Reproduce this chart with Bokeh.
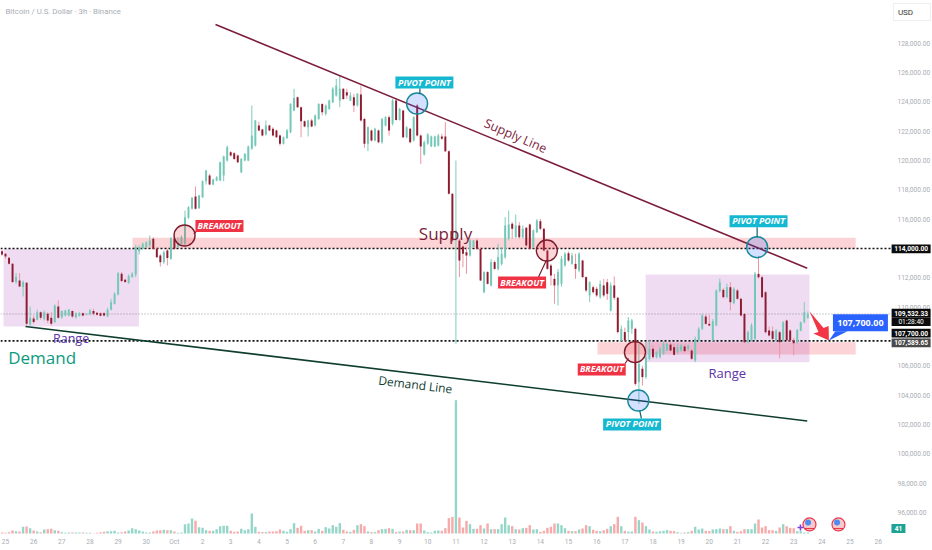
from bokeh.plotting import figure, ColumnDataSource
from bokeh.models import Range1d, FixedTicker, NumeralTickFormatter, LinearScale
from bokeh.core.properties import value
from bokeh.embed import file_html
from bokeh.resources import INLINE

opens = [113.82,113.64,113.37,112.96,111.71,111.82,111.37,111.66,108.82,109.23,
109.14,109.66,109.21,109.55,109.27,108.98,110.05,109.32,109.43,109.43,
109.73,109.32,109.41,109.59,109.50,109.50,109.73,109.62,109.59,109.59,
109.37,109.82,110.23,110.87,112.27,111.87,111.64,112.05,112.23,113.82,
113.98,114.09,114.21,114.66,113.98,113.52,113.07,113.86,113.30,114.66,
114.09,114.27,114.32,116.09,116.71,117.55,116.75,117.50,118.59,118.98,
118.36,118.64,118.64,118.98,120.00,120.57,120.50,120.34,119.20,120.00,
120.00,120.80,121.02,122.39,122.11,121.77,122.39,122.16,122.05,121.70,
121.14,121.52,121.93,123.41,124.32,123.64,122.68,
122.27,122.73,122.39,122.84,123.86,123.18,123.52,123.98,124.43,124.09,
124.89,124.66,124.09,124.32,123.75,124.50,122.84,121.14,122.05,121.36,
122.05,121.25,122.39,122.95,122.50,124.09,122.77,123.41,121.59,122.16,
121.36,123.75,121.70,120.41,121.14,120.95,120.95,121.02,121.64,121.64,
120.64,117.73,114.55,114.55,114.14,113.75,113.52,114.09,114.55,113.98,
111.02,112.39,111.48,113.07,112.61,112.95,113.41,114.66,115.68,114.77,
115.57,114.77,115.41,115.64,114.09,115.11,115.86,115.34,113.87,112.84,
111.93,111.48,111.59,112.84,113.68,112.95,112.95,112.50,113.18,112.05,
110.80,111.36,111.25,110.68,111.48,111.70,109.77,111.48,110.64,107.73,
108.30,108.30,108.52,108.52,104.89,105.80,105.23,106.48,107.16,106.59,
106.59,106.82,107.04,107.45,107.27,106.93,107.04,107.32,107.16,107.04,
106.36,107.73,108.52,109.36,108.86,107.73,108.75,111.09,111.18,110.68,
111.36,110.27,111.14,110.57,109.54,107.61,107.73,107.84,112.27,112.04,
111.02,108.41,108.36,107.73,108.29,107.73,109.09,108.41,107.73,107.61,
108.41,108.97,109.27]

highs = [113.91,113.68,113.41,113.00,112.32,112.32,111.82,111.71,110.05,109.43,
109.82,109.71,109.78,109.66,109.66,110.18,110.46,109.78,109.82,109.89,
109.78,109.64,109.66,109.64,109.57,109.87,109.89,109.66,109.64,109.68,
109.96,110.57,111.02,112.39,112.39,111.93,112.23,112.39,114.25,114.21,
114.41,114.50,114.89,114.77,114.02,113.64,113.86,113.98,114.77,114.73,
114.77,114.89,116.59,116.89,117.50,118.23,117.66,118.64,119.36,119.09,
118.75,118.93,119.93,120.34,121.02,120.64,120.57,120.41,120.18,120.50,
121.02,123.75,122.77,122.66,122.16,122.73,122.45,122.27,122.11,121.77,
121.64,122.16,123.91,124.89,124.36,123.68,122.73,
122.77,122.84,123.14,123.91,123.91,123.82,124.16,125.00,125.57,125.80,
124.93,124.89,124.66,124.55,124.59,125.11,122.91,122.32,122.11,122.23,
122.11,122.91,123.02,123.07,124.20,124.20,123.59,123.45,122.34,122.23,
123.02,123.86,121.77,121.36,121.86,121.70,121.70,121.82,121.82,122.61,
120.68,117.77,120.00,114.66,114.20,114.09,114.66,114.59,114.66,114.05,
112.45,112.45,113.30,113.18,114.32,114.09,116.14,116.59,115.80,116.32,
115.80,115.57,115.45,115.70,115.30,116.00,116.02,115.40,113.95,112.95,
112.27,112.60,113.50,113.77,113.80,113.70,113.64,113.75,113.23,112.09,
111.77,111.48,111.40,111.82,111.93,111.93,111.70,112.09,110.70,108.75,
108.60,109.32,109.20,108.60,107.50,106.00,107.60,107.73,107.39,107.00,
107.30,107.66,107.60,107.60,107.50,107.50,107.50,107.45,107.45,107.16,
108.00,108.64,109.55,109.50,109.45,109.20,111.20,111.95,111.30,111.60,
111.70,111.36,111.25,110.64,109.60,108.40,108.90,112.40,113.50,112.15,
111.10,108.68,108.68,108.50,108.40,109.05,109.15,108.50,107.90,108.50,
109.02,110.34,109.70]

lows = [113.50,113.30,112.91,111.64,111.59,111.37,110.73,108.75,108.75,108.87,
109.09,109.14,109.09,108.91,108.75,108.91,109.21,109.21,109.37,109.37,
109.27,109.21,109.37,109.37,109.46,109.48,109.43,109.43,109.37,109.37,
109.32,109.78,110.18,110.80,111.71,111.64,111.59,112.00,112.05,113.59,
113.91,114.02,114.09,113.91,113.36,112.77,112.95,112.84,113.23,113.91,
114.05,114.20,114.20,116.02,116.66,116.66,116.71,117.46,118.36,118.32,
118.32,118.59,118.59,118.59,119.93,120.27,120.05,119.82,119.14,119.95,
119.95,120.73,120.95,122.00,121.64,121.70,122.00,121.64,121.55,121.02,
121.09,121.48,121.86,123.36,123.59,121.59,122.27,
121.64,122.27,122.32,122.77,123.07,123.07,123.45,123.91,124.36,123.64,
124.14,124.20,124.05,123.30,123.68,122.66,120.86,120.64,121.30,121.30,
121.18,121.14,122.32,121.70,122.39,122.73,122.73,121.52,121.52,121.18,
121.30,121.64,119.77,120.34,121.07,120.91,120.91,120.95,121.41,120.57,
117.68,114.43,107.50,112.05,112.73,112.27,113.45,114.05,113.91,111.77,
110.95,111.55,111.41,112.55,112.50,112.84,113.30,114.55,114.66,114.73,
114.66,114.66,114.14,113.90,114.02,115.05,115.25,113.80,112.55,111.48,
110.23,110.11,111.40,112.77,113.10,112.90,111.93,112.39,112.00,111.02,
110.34,110.93,110.70,110.57,110.68,110.50,109.70,110.50,108.20,107.68,
107.68,107.73,108.18,104.65,103.40,104.65,105.11,106.36,106.48,106.50,
106.50,106.75,107.00,107.00,106.70,106.80,106.95,106.90,107.00,106.40,
106.25,107.60,108.45,108.80,108.70,107.66,108.70,111.00,110.60,110.60,
109.77,110.20,110.50,109.36,107.55,107.55,107.66,107.75,111.95,110.60,
108.20,108.00,107.75,107.65,106.52,107.65,107.65,107.65,106.70,107.50,
108.35,108.90,109.20]

closes = [113.59,113.46,112.96,111.71,112.05,111.41,111.71,108.87,109.27,108.98,
109.66,109.27,109.66,109.09,108.87,110.11,109.27,109.73,109.78,109.82,
109.37,109.59,109.59,109.43,109.55,109.78,109.55,109.48,109.41,109.43,
109.82,110.34,110.91,112.32,111.78,111.71,112.12,112.27,114.09,114.09,
114.32,114.43,114.55,113.98,113.41,113.07,113.75,113.36,114.71,113.98,
114.43,114.77,116.14,116.82,117.46,116.71,117.61,118.59,119.32,118.36,
118.71,118.86,119.89,120.27,120.91,120.34,120.11,119.89,120.11,120.46,
120.95,121.70,122.73,122.05,121.70,122.39,122.05,121.70,121.59,121.14,
121.59,122.05,123.86,124.27,123.64,122.68,122.32,
122.73,122.32,123.07,123.86,123.30,123.75,124.09,124.89,125.11,124.89,
124.20,124.43,124.43,123.75,124.55,122.73,121.14,122.27,121.36,122.16,
121.25,122.84,122.95,122.05,124.09,122.77,123.52,121.59,122.27,121.25,
122.95,121.70,120.95,121.25,121.77,121.64,121.64,121.70,121.48,120.64,
117.73,114.55,115.23,113.18,113.64,113.52,114.55,114.55,113.98,111.82,
112.39,111.59,113.07,112.61,113.41,113.64,115.57,115.64,115.34,115.57,
114.77,115.34,114.20,113.98,115.23,115.91,115.34,113.87,112.61,112.16,
111.48,112.39,113.30,113.64,113.18,113.52,112.61,113.64,112.05,111.14,
111.70,111.02,110.80,111.59,110.80,110.91,111.48,110.64,108.30,108.52,
107.73,109.09,109.09,104.77,106.14,105.23,106.59,107.16,106.59,106.93,
107.16,107.50,107.50,107.04,106.75,107.27,107.38,107.00,107.38,106.48,
107.84,108.52,109.43,108.86,108.75,109.05,111.14,111.70,110.68,111.36,
110.34,111.25,110.57,109.43,107.61,108.29,108.75,112.27,112.04,110.68,
108.29,108.07,107.84,108.41,107.61,108.97,107.73,107.73,107.54,108.45,
108.97,109.66,109.53]

volumes = [3,2,4,9,7,6,20,21,16,9,6,4,12,13,14,10,8,4,2,3,3,3,3,3,2,2,1,2,4,5,7,7,8,3,4,6,9,16,13,9,6,3,3,
6,9,10,11,10,10,6,2,3,
28,30,45,38,19,17,10,8,8,13,22,23,23,8,5,6,14,10,13,60,20,5,4,4,6,6,7,12,8,5,13,31,17,23,8,10,10,6,14,8,19,15,25,20,31,
11,6,5,11,25,28,22,6,4,4,10,13,14,16,14,5,6,6,11,10,10,30,30,9,4,3,8,9,8,16,46,50,400,48,18,
38,28,14,14,25,15,30,13,13,13,28,48,25,22,13,12,16,17,25,12,13,5,8,17,20,30,30,25,16,8,7,7,12,15,25,22,11,8,7,10,
14,22,28,50,22,8,6,6,50,40,33,22,12,6,5,7,8,10,8,7,4,2,3,4,8,20,12,15,8,7,12,13,15,13,13,22,8,5,7,13,
13,13,30,42,18,22,10,10,8,18,28,22,17,16,7,7,3,3]

day_ticks = list(range(0, 32))
day_labels = ["25","26","27","28","29","30","Oct"] + [str(d) for d in range(2, 27)]
price_ticks = list(range(96000, 130000, 2000))

n = len(closes)
if not (len(opens) == len(highs) == len(lows) == n == len(volumes)):
    raise SystemExit(f"lengths {len(opens)} {len(highs)} {len(lows)} {n} {len(volumes)}")

days = [(i - 1) / 8 for i in range(n)]
UP, DOWN = "#74c8b8", "#8e1c31"
UP_W, DOWN_W = "#7ccdbd", "#ee95a0"
UP_V, DOWN_V = "#94d6c9", "#f6aaaa"
up = [c >= o for o, c in zip(opens, closes)]

src = ColumnDataSource(dict(
    x=days,
    o=[v * 1000 for v in opens], c=[v * 1000 for v in closes],
    h=[v * 1000 for v in highs], l=[v * 1000 for v in lows],
    vol=volumes,
    body=[UP if u else DOWN for u in up],
    wick=[UP_W if u else DOWN_W for u in up],
    vc=[UP_V if u else DOWN_V for u in up],
))

p = figure(width=932, height=550, output_backend="svg", toolbar_location=None,
           x_range=Range1d(-0.178, 32.93), y_range=Range1d(93404, 130914),
           y_axis_location="right", min_border_left=0, min_border_right=0,
           min_border_top=0, min_border_bottom=0, outline_line_color=None,
           background_fill_color="white", border_fill_color="white")
p.xgrid.visible = False
p.ygrid.visible = False

for ax in (p.xaxis[0], p.yaxis[0]):
    ax.axis_line_color = None
    ax.major_tick_line_color = None
    ax.minor_tick_line_color = None
    ax.major_tick_out = 0
    ax.major_tick_in = 0
    ax.major_label_text_color = "#a9adb3"
    ax.major_label_text_font = "Roboto"
    ax.major_label_text_font_size = "6.6px"
p.xaxis[0].ticker = FixedTicker(ticks=day_ticks)
p.xaxis[0].major_label_overrides = {d: s for d, s in zip(day_ticks, day_labels)}
p.xaxis[0].major_label_standoff = 4
p.xaxis[0].fixed_location = 94563
p.yaxis[0].ticker = FixedTicker(ticks=price_ticks)
p.yaxis[0].formatter = NumeralTickFormatter(format="0,0.00")
p.yaxis[0].major_label_standoff = 8
p.yaxis[0].fixed_location = 31.40

p.extra_y_ranges = {"vol": Range1d(-51, 1599)}
p.extra_y_scales = {"vol": LinearScale()}

# zones
zone_left = [4.51, 21.03]
zone_right = [30.2, 30.2]
zone_top = [114730, 107610]
zone_bottom = [113980, 106770]
p.quad(left=zone_left, right=zone_right, top=zone_top, bottom=zone_bottom,
       fill_color="#f23645", fill_alpha=0.22, line_color=None)
range_left = [-0.07, 22.74]
range_right = [4.74, 28.56]
range_top = [113980, 112230]
range_bottom = [108680, 106250]
p.quad(left=range_left, right=range_right, top=range_top, bottom=range_bottom,
       fill_color="#9c27b0", fill_alpha=0.16, line_color=None)

# price lines
x_span = [-0.178, 31.45]
p.line(x_span, [109532.33, 109532.33], line_color="#555555", line_width=0.6, line_dash="1 2")
p.line(x_span, [114000, 114000], line_color="#111111", line_width=1.6, line_dash="2 2")
p.line(x_span, [107700, 107700], line_color="#111111", line_width=1.6, line_dash="2 2")

# volume
p.vbar(x="x", top="vol", bottom=0, width=0.085, source=src, fill_color="vc",
       line_color=None, y_range_name="vol")

# candles
p.segment(x0="x", x1="x", y0="l", y1="h", source=src, line_color="wick", line_width=1)
p.vbar(x="x", top="o", bottom="c", width=0.07, source=src, fill_color="body", line_color=None)

# trend lines
supply_days = [7.46, 28.48]
supply_prices = [129280, 112660]
demand_days = [0.71, 28.48]
demand_prices = [108680, 102240]
p.line(supply_days, supply_prices, line_color="#7c1d3b", line_width=1.6)
p.line(demand_days, demand_prices, line_color="#0f3d30", line_width=1.6)

# circles
bk_days = [6.36, 19.23, 22.36]
bk_prices = [114890, 113860, 106930]
pv_days = [14.62, 22.48, 26.70]
pv_prices = [123890, 103630, 114090]
p.scatter(bk_days, bk_prices, size=21, marker="circle", fill_color="#f23645", fill_alpha=0.2,
          line_color="#7c1d2e", line_width=1.4)
p.scatter(pv_days, pv_prices, size=21, marker="circle", fill_color="#2962ff", fill_alpha=0.2,
          line_color="#168a9c", line_width=1.4)

# connectors
bk_x0, bk_y0, bk_x1, bk_y1 = [6.69, 19.21, 22.01], [115000, 113180, 106160], [6.81, 18.93, 22.13], [115230, 112040, 106500]
pv_x0, pv_y0, pv_x1, pv_y1 = [14.72, 26.70, 22.53], [124930, 115450, 102950], [14.72, 26.70, 22.59], [124540, 114770, 102390]
p.segment(bk_x0, bk_y0, bk_x1, bk_y1, line_color="#7c1d2e", line_width=1.2)
p.segment(pv_x0, pv_y0, pv_x1, pv_y1, line_color="#0f5f70", line_width=1.2)

# callouts
bk_lx = [7.60, 18.35, 21.18]
bk_ly = [115530, 111680, 105750]
pv_lx = [14.88, 26.75, 22.26]
pv_ly = [125320, 115860, 102000]
p.rect(bk_lx, bk_ly, width=48, height=12, width_units="screen", height_units="screen",
       fill_color="#ef3344", line_color=None)
p.rect(pv_lx, pv_ly, width=58, height=12, width_units="screen", height_units="screen",
       fill_color="#14b8d0", line_color=None)
p.text(bk_lx, bk_ly, text=["BREAKOUT"] * 3, text_color="white", text_font=value("Open Sans"),
       text_font_size="8.8px", text_font_style="bold italic", text_align="center", text_baseline="middle")
p.text(pv_lx, pv_ly, text=["PIVOT POINT"] * 3, text_color="white", text_font=value("Open Sans"),
       text_font_size="8.8px", text_font_style="bold italic", text_align="center", text_baseline="middle")

# big texts
def big(x, y, s, color, size, angle=0.0):
    p.text([x], [y], text=[s], text_color=color, text_font=value("Open Sans"), text_font_size=size,
           text_align="center", text_baseline="middle", angle=angle)

big(15.63, 115020, "Supply", "#7c1d3b", "17px")
big(18.12, 121690, "Supply Line", "#7c1d3b", "12.5px", -0.41)
big(14.56, 104720, "Demand Line", "#0f3d30", "12px", -0.12)
big(1.30, 106570, "Demand", "#0e9a80", "17px")
big(2.33, 107860, "Range", "#5c33a8", "12.5px")
big(25.64, 105480, "Range", "#5c33a8", "13px")

p.text([0.0], [130160], text=["Bitcoin / U.S. Dollar · 3h · Binance"], text_color="#a9adb3",
       text_font=value("Roboto"), text_font_size="7.8px", text_align="left", text_baseline="middle")

# red arrow and blue target callout
arrow_days = [28.56, 29.06, 29.24, 29.25, 28.70, 28.88]
arrow_prices = [109720, 108580, 108720, 107720, 108200, 108300]
p.patch(arrow_days, arrow_prices, fill_color="#f23645", line_color=None)
tail_days = [29.48, 29.91, 29.25]
tail_prices = [108360, 108360, 107720]
p.patch(tail_days, tail_prices, fill_color="#2962ff", line_color=None)
p.rect([30.37], [108930], width=55, height=17, width_units="screen", height_units="screen",
       fill_color="#2962ff", line_color=None)
p.text([30.37], [108930], text=["107,700.00"], text_color="white", text_font=value("Open Sans"),
       text_font_size="9px", text_font_style="bold", text_align="center", text_baseline="middle")

# flags
flag_days = [28.56, 29.59]
flag_price = [95180, 95180]
p.scatter(flag_days, flag_price, size=13, marker="circle", fill_color="#f7c9cd",
          line_color="#e8394a", line_width=1.2)
p.scatter([d - 0.05 for d in flag_days], [95320, 95320], size=6, marker="circle",
          fill_color="#4a8df0", line_color=None)
p.scatter(flag_days, [94900, 94900], size=9, marker="dash", line_color="#e8394a", line_width=1.2)
p.scatter([28.24], [94970], size=6, marker="cross", line_color="#7b3fe4", line_width=1.6)

# price-scale tags
TAG_X = 32.17
def tag(y, s, bg="#0c0c0c", x=TAG_X, w=39, h=8.7, color="white", size="6.6px", bold=True):
    p.rect([x], [y], width=w, height=h, width_units="screen", height_units="screen",
           fill_color=bg, line_color=None, level="overlay")
    p.text([x], [y], text=[s], text_color=color, text_font=value("Roboto"), text_font_size=size,
           text_font_style="bold" if bold else "normal", text_align="center", text_baseline="middle",
           level="overlay")

tag(113980, "114,000.00")
tag(109600, "109,532.33")
tag(109020, "01:28:40", bold=False)
tag(108224, "107,700.00")
tag(107568, "107,589.65", bg="#4a4a4a")
tag(94904, "41", bg="#1fa394", x=31.72, w=14, h=9)

# currency box
p.rect([32.2], [130129], width=37, height=17, width_units="screen", height_units="screen",
       fill_color="white", line_color="#eeeeee", level="overlay")
p.text([31.97], [130129], text=["USD"], text_color="#333333", text_font=value("Roboto"), text_font_size="8px",
       text_align="center", text_baseline="middle", level="overlay")

html = file_html(p, INLINE)
open("out.html", "w").write(html)
